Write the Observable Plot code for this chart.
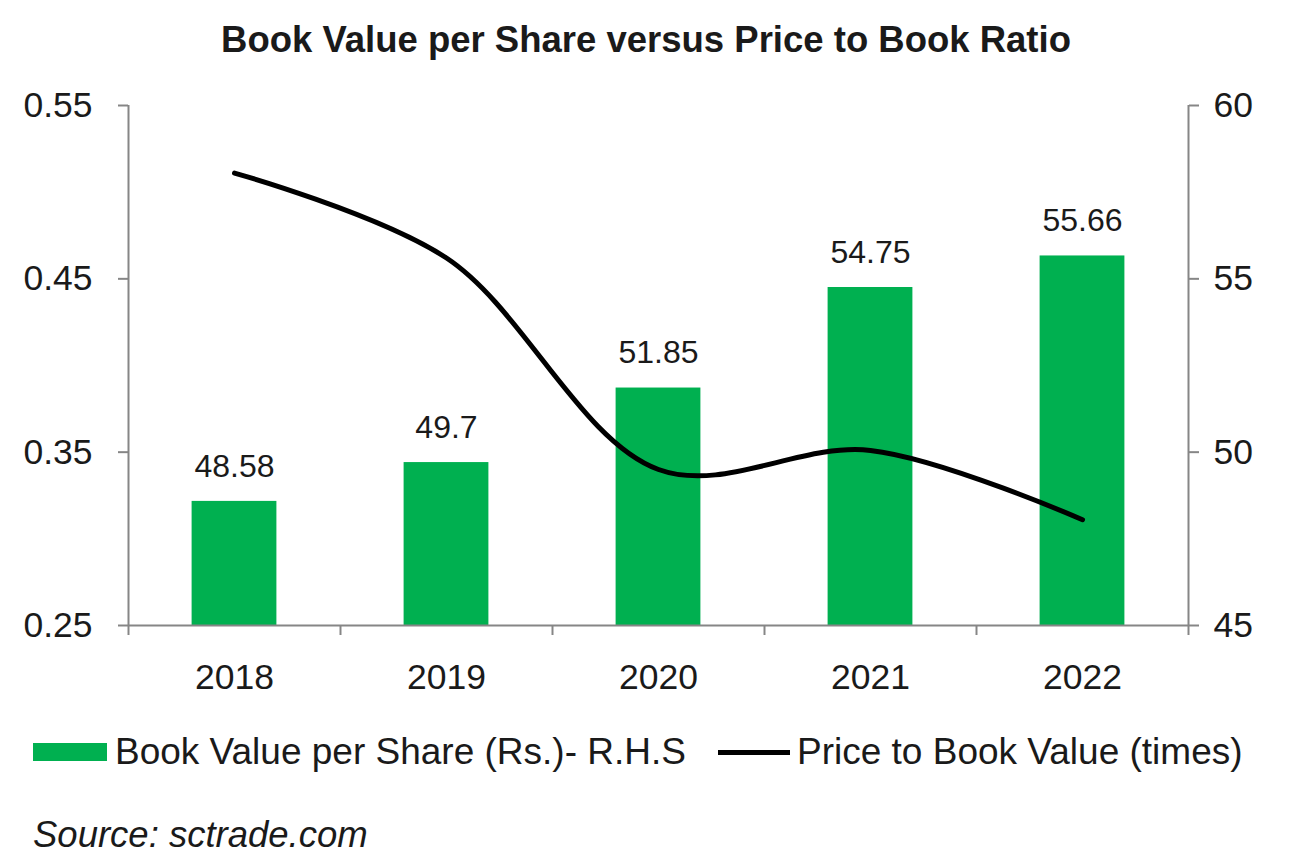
<!DOCTYPE html>
<html>
<head>
<meta charset="utf-8">
<script src="https://cdn.jsdelivr.net/npm/d3@7"></script>
<script src="https://cdn.jsdelivr.net/npm/@observablehq/plot@0.6"></script>
<style>
  html, body { margin: 0; padding: 0; background: #fff; }
  #wrap { position: relative; width: 1292px; height: 863px; font-family: "Liberation Sans", Arial, sans-serif; color: #1a1a1a; overflow: hidden; }
  #title { position: absolute; top: 19px; left: 0; width: 1292px; text-align: center; font-weight: bold; font-size: 36.5px; }
  #chart { position: absolute; top: 80px; left: 0; }
  .leg { position: absolute; top: 731px; font-size: 37px; line-height: 42px; white-space: nowrap; }
  #source { position: absolute; top: 814px; left: 33px; font-size: 36.5px; font-style: italic; line-height: 42px; }
</style>
</head>
<body>
<div id="wrap">
  <div id="title">Book Value per Share versus Price to Book Ratio</div>
  <div id="chart"></div>
  <div class="leg" style="left:33px;"><span style="display:inline-block;width:74px;height:18px;background:#00B050;vertical-align:middle;margin-right:8px;position:relative;top:-2px;"></span>Book Value per Share (Rs.)- R.H.S</div>
  <div class="leg" style="left:718px;"><span style="display:inline-block;width:72px;height:5px;background:#000;vertical-align:middle;margin-right:7px;position:relative;top:-2px;"></span>Price to Book Value (times)</div>
  <div id="source">Source: sctrade.com</div>
</div>
<script>
const years = ["2018", "2019", "2020", "2021", "2022"];
const bookValue = [48.58, 49.7, 51.85, 54.75, 55.66];
const priceToBook = [0.511, 0.462, 0.34, 0.351, 0.311];
const leftTicks = [0.25, 0.35, 0.45, 0.55];
const rightTicks = [45, 50, 55, 60];

const leftDomain = [0.25, 0.55];
const rightDomain = [45, 60];
const toLeft = v => leftDomain[0] + (v - rightDomain[0]) / (rightDomain[1] - rightDomain[0]) * (leftDomain[1] - leftDomain[0]);
const fromLeft = v => rightDomain[0] + (v - leftDomain[0]) / (leftDomain[1] - leftDomain[0]) * (rightDomain[1] - rightDomain[0]);

const rows = years.map((y, i) => ({ i, year: y, bv: bookValue[i], pb: priceToBook[i] }));
const boundaries = [-0.5, ...years.map((_, i) => i + 0.5)];
const barHalf = 0.2;

const axisColor = "#868686";

const chart = Plot.plot({
  width: 1292,
  height: 625,
  marginTop: 25,
  marginBottom: 80,
  marginLeft: 128,
  marginRight: 104,
  style: { fontFamily: "'Liberation Sans', Arial, sans-serif", fontSize: "35.5px", color: "#1a1a1a", background: "white" },
  x: { type: "linear", domain: [-0.5, years.length - 0.5] },
  y: { domain: leftDomain },
  marks: [
    Plot.rectY(rows, { x1: d => d.i - barHalf, x2: d => d.i + barHalf, y1: leftDomain[0], y2: d => toLeft(d.bv), fill: "#00B050" }),
    Plot.ruleY([leftDomain[0]], { stroke: axisColor, strokeWidth: 2 }),
    Plot.ruleX([-0.5, years.length - 0.5], { stroke: axisColor, strokeWidth: 2 }),
    Plot.axisY({ ticks: leftTicks, tickFormat: d3.format(".2f"), tickSize: 10, tickPadding: 26, stroke: axisColor, strokeWidth: 2, fill: "#1a1a1a", label: null }),
    Plot.axisY({ anchor: "right", ticks: rightTicks.map(toLeft), tickFormat: d => String(Math.round(fromLeft(d))), tickSize: 10, tickPadding: 15, stroke: axisColor, strokeWidth: 2, fill: "#1a1a1a", label: null }),
    Plot.axisX({ ticks: boundaries, tickFormat: () => "", tickSize: 10, stroke: axisColor, strokeWidth: 2, label: null }),
    Plot.axisX({ ticks: years.map((_, i) => i), tickFormat: i => years[i], tickSize: 0, tickPadding: 38, fill: "#1a1a1a", label: null }),
    Plot.line(rows, { x: "i", y: "pb", curve: "catmull-rom", stroke: "black", strokeWidth: 5 }),
    Plot.text(rows, { x: "i", y: d => toLeft(d.bv), text: d => String(d.bv), dy: -35, fontSize: 32, fill: "#1a1a1a" })
  ]
});
document.getElementById("chart").appendChild(chart);
</script>
</body>
</html>
